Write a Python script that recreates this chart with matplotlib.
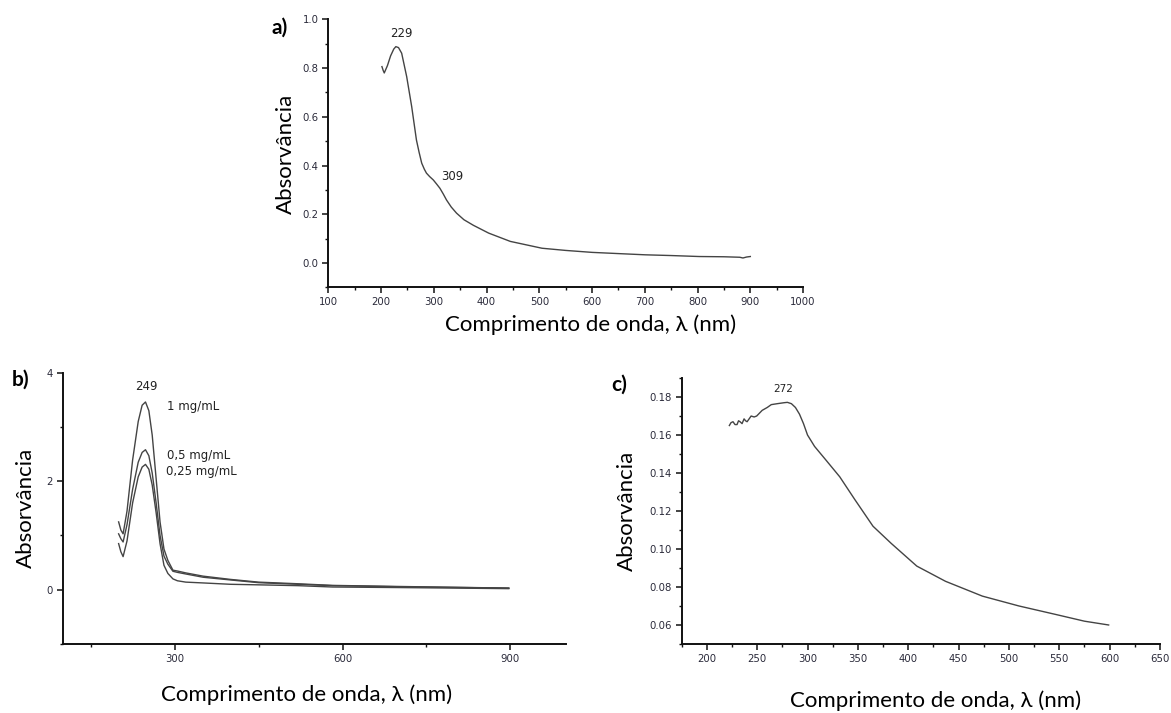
import matplotlib
matplotlib.use("Agg")
import matplotlib.pyplot as plt
from matplotlib.ticker import MultipleLocator, FormatStrFormatter

# panel a) - absorption spectrum
wl_a = [201.6, 204, 206, 212, 218, 224, 228, 233, 239, 248.5, 258, 267, 272, 277, 282,
        286, 292, 299, 305, 311.5, 318, 324, 333, 343, 357, 375, 404, 445, 505, 550,
        600, 650, 701, 750, 803, 850, 880, 886, 893, 900]
abs_a = [0.806, 0.79, 0.78, 0.81, 0.85, 0.878, 0.888, 0.884, 0.861, 0.765, 0.642,
         0.505, 0.455, 0.41, 0.385, 0.369, 0.355, 0.341, 0.325, 0.307, 0.283, 0.259,
         0.23, 0.205, 0.178, 0.155, 0.123, 0.089, 0.061, 0.052, 0.044, 0.039, 0.034,
         0.031, 0.027, 0.026, 0.024, 0.021, 0.025, 0.027]

# panel b) - three concentrations
wl_b = [200, 204, 208, 215, 225, 235, 242, 248, 254, 260, 267, 274, 281, 288, 297,
        305, 320, 351, 400, 450, 520, 582, 700, 800, 897]
abs_b1 = [1.25, 1.1, 1.03, 1.45, 2.39, 3.1, 3.4, 3.46, 3.3, 2.85, 2.05, 1.25, 0.75,
          0.54, 0.36, 0.345, 0.31, 0.25, 0.19, 0.14, 0.11, 0.08, 0.06, 0.045, 0.03]
abs_b2 = [1.03, 0.94, 0.88, 1.2, 1.85, 2.35, 2.53, 2.58, 2.47, 2.15, 1.6, 1.0, 0.62,
          0.47, 0.34, 0.32, 0.29, 0.23, 0.18, 0.13, 0.1, 0.075, 0.055, 0.042, 0.03]
abs_b3 = [0.85, 0.7, 0.61, 0.9, 1.6, 2.08, 2.26, 2.31, 2.22, 1.93, 1.42, 0.85, 0.45,
          0.3, 0.2, 0.165, 0.14, 0.125, 0.1, 0.09, 0.075, 0.05, 0.04, 0.03, 0.02]
labels_b = ["1 mg/mL", "0,5 mg/mL", "0,25 mg/mL"]

# panel c) - noisy spectrum
wl_c = [222.4, 224, 226, 228, 230, 231.5, 233, 235, 237, 238.5, 240, 242, 244, 247,
        249.5, 255, 260, 264, 270, 276.6, 280, 284, 288, 292, 296, 300, 307, 318, 332,
        347, 365, 383, 408.5, 437, 473.6, 510, 546, 575, 599]
abs_c = [0.165, 0.1665, 0.167, 0.1655, 0.1655, 0.1675, 0.167, 0.166, 0.1685, 0.1675,
         0.167, 0.1685, 0.170, 0.1695, 0.170, 0.173, 0.1745, 0.176, 0.1765, 0.177,
         0.1772, 0.1765, 0.1745, 0.171, 0.166, 0.160, 0.154, 0.147, 0.138, 0.126,
         0.112, 0.103, 0.091, 0.083, 0.0752, 0.070, 0.0656, 0.062, 0.060]

line_col = "#444444"
text_col = "#222222"
label_font = "Lato"
tick_font = "DejaVu Sans"
xlabel = "Comprimento de onda, λ (nm)"
ylabel = "Absorvância"


def style_axes(ax):
    for side in ["top", "right"]:
        ax.spines[side].set_visible(False)
    for side in ["left", "bottom"]:
        ax.spines[side].set_linewidth(1.4)
        ax.spines[side].set_color("#111111")
    ax.tick_params(axis="both", which="major", direction="out", length=4, width=1.1,
                   labelsize=7.3, colors="#111111", labelcolor="#2a2a3a", pad=3)
    ax.tick_params(axis="both", which="minor", direction="out", length=2.5, width=1.0,
                   colors="#111111")
    for lab in ax.get_xticklabels() + ax.get_yticklabels():
        lab.set_family(tick_font)


fig = plt.figure(figsize=(11.71, 7.13), dpi=100)

# a)
ax_a = fig.add_axes([0.2804, 0.5968, 0.4054, 0.3761])
ax_a.plot(wl_a, abs_a, color=line_col, lw=1.0)
ax_a.set_xlim(100, 1000)
ax_a.set_ylim(-0.1, 1.0)
ax_a.xaxis.set_major_locator(MultipleLocator(100))
ax_a.xaxis.set_minor_locator(MultipleLocator(50))
ax_a.yaxis.set_major_locator(MultipleLocator(0.2))
ax_a.yaxis.set_minor_locator(MultipleLocator(0.1))
ax_a.yaxis.set_major_formatter(FormatStrFormatter("%.1f"))
style_axes(ax_a)
ax_a.text(239, 0.94, "229", ha="center", va="center", fontsize=8.5,
          family=tick_font, color=text_col)
ax_a.text(313, 0.355, "309", ha="left", va="center", fontsize=8.5,
          family=tick_font, color=text_col)
ax_a.set_xlabel(xlabel, fontsize=16, family=label_font, labelpad=5)
ax_a.xaxis.label.set_x(0.553)
ax_a.set_ylabel(ylabel, fontsize=16, family=label_font, labelpad=5)

# b)
ax_b = fig.add_axes([0.0535, 0.0968, 0.4302, 0.3805])
for y in [abs_b1, abs_b2, abs_b3]:
    ax_b.plot(wl_b, y, color=line_col, lw=1.0)
ax_b.set_xlim(100, 1000)
ax_b.set_ylim(-1, 4)
ax_b.set_xticks([300, 600, 900])
ax_b.xaxis.set_minor_locator(MultipleLocator(150))
ax_b.yaxis.set_major_locator(MultipleLocator(2))
ax_b.yaxis.set_minor_locator(MultipleLocator(1))
style_axes(ax_b)
ax_b.text(250, 3.75, "249", ha="center", va="center", fontsize=8.5,
          family=tick_font, color=text_col)
ax_b.text(286, 3.38, labels_b[0], ha="left", va="center", fontsize=8.5,
          family=tick_font, color=text_col)
ax_b.text(286, 2.47, labels_b[1], ha="left", va="center", fontsize=8.5,
          family=tick_font, color=text_col)
ax_b.text(284, 2.17, labels_b[2], ha="left", va="center", fontsize=8.5,
          family=tick_font, color=text_col)
ax_b.set_xlabel(xlabel, fontsize=16, family=label_font, labelpad=15)
ax_b.xaxis.label.set_x(0.485)
ax_b.set_ylabel(ylabel, fontsize=16, family=label_font, labelpad=8)

# c)
ax_c = fig.add_axes([0.5821, 0.0968, 0.4085, 0.3730])
ax_c.plot(wl_c, abs_c, color=line_col, lw=1.0)
ax_c.set_xlim(175, 650)
ax_c.set_ylim(0.05, 0.19)
ax_c.set_xticks([200, 250, 300, 350, 400, 450, 500, 550, 600, 650])
ax_c.xaxis.set_minor_locator(MultipleLocator(25))
ax_c.set_yticks([0.06, 0.08, 0.10, 0.12, 0.14, 0.16, 0.18])
ax_c.yaxis.set_minor_locator(MultipleLocator(0.01))
ax_c.yaxis.set_major_formatter(FormatStrFormatter("%.2f"))
style_axes(ax_c)
ax_c.text(276, 0.1842, "272", ha="center", va="center", fontsize=7.5,
          family=tick_font, color=text_col)
ax_c.set_xlabel(xlabel, fontsize=16, family=label_font, labelpad=19)
ax_c.xaxis.label.set_x(0.531)
ax_c.set_ylabel(ylabel, fontsize=16, family=label_font, labelpad=9)

# panel letters
for px, py, letter in [(280, 28, "a)"), (21, 380, "b)"), (619, 385, "c)")]:
    fig.text(px / 1171, 1 - py / 713, letter, fontsize=15, fontweight="bold",
             family=label_font, ha="center", va="center")

fig.savefig("out.png", dpi=100, facecolor="white")
